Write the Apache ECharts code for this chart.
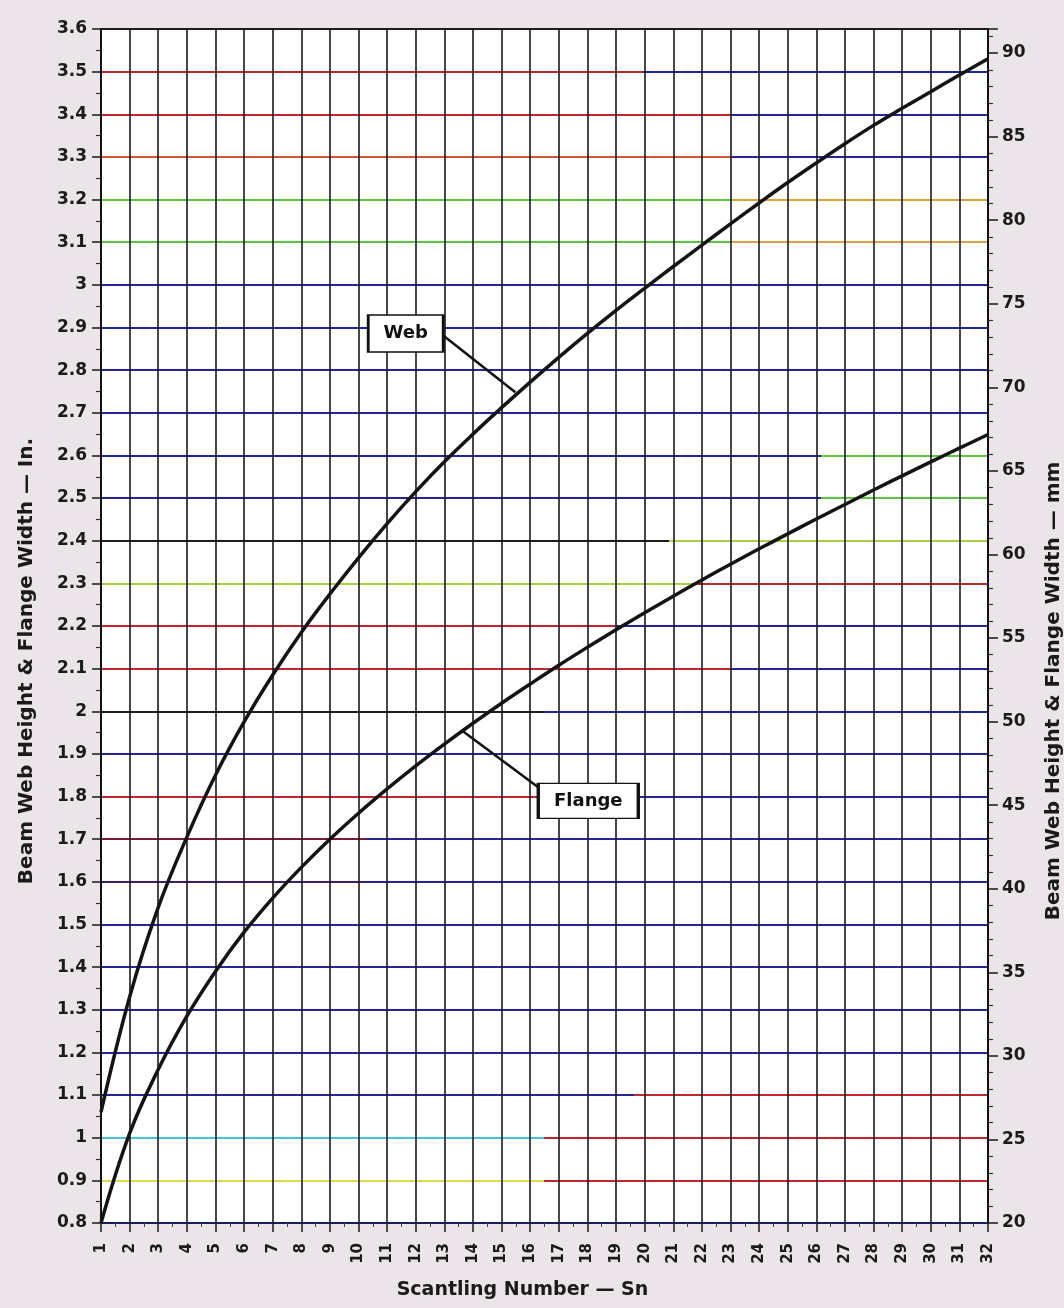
<!DOCTYPE html>
<html>
<head>
<meta charset="utf-8">
<script src="https://cdn.jsdelivr.net/npm/echarts@6/dist/echarts.min.js"></script>
<style>
html,body{margin:0;padding:0;background:#ebe5e9;}
#chart{width:1064px;height:1308px;}
</style>
</head>
<body>
<div id="chart"></div>
<script>
// ---- data ----
const scantlingNumbers = [1,2,3,4,5,6,7,8,9,10,11,12,13,14,15,16,17,18,19,20,21,22,23,24,25,26,27,28,29,30,31,32];
const webHeightIn = [1.06,1.33,1.54,1.705,1.85,1.975,2.085,2.185,2.275,2.36,2.44,2.515,2.585,2.65,2.712,2.772,2.83,2.886,2.94,2.992,3.043,3.093,3.143,3.192,3.24,3.286,3.331,3.374,3.414,3.453,3.492,3.53];
const flangeWidthIn = [0.80,1.01,1.16,1.285,1.39,1.482,1.562,1.634,1.70,1.761,1.818,1.872,1.923,1.972,2.019,2.064,2.108,2.15,2.191,2.231,2.27,2.308,2.345,2.381,2.416,2.451,2.485,2.519,2.552,2.585,2.617,2.649];
const inchAxis = {min: 0.8, max: 3.6, step: 0.1};
const mmAxis = {min: 20, max: 91.44, step: 5};
const xTitle = 'Scantling Number — Sn';
const leftTitle = 'Beam Web Height & Flange Width — In.';
const rightTitle = 'Beam Web Height & Flange Width — mm';
const labels = ['Web', 'Flange'];

// ---- annotation placement (data coords) ----
const webNote = {box: [11.65, 2.886], from: [12.96, 2.881], to: [15.48, 2.748]};
const flangeNote = {box: [18.03, 1.790], from: [16.28, 1.822], to: [13.59, 1.956]};

// ---- styles ----
const NAVY = '#24249c', RED = '#c4262e', GREEN = '#5cc63c', YGREEN = '#a9d040',
      ORANGE = '#d9a040', YELLOW = '#e3d84a', CYAN = '#45c6e0', BLACK = '#1d1d1d',
      DRED = '#7a1a3a', PURPLE = '#3a1f6e', ORED = '#d2553a';
// bottom (0.8) to top (3.6): [leftColor, rightColor, changeFraction]
const lineColorPlan = [
  [NAVY], [YELLOW, RED, 0.5], [CYAN, RED, 0.5], [NAVY, RED, 0.6], [NAVY], [NAVY], [NAVY], [NAVY],
  [PURPLE, NAVY, 0.3], [DRED, NAVY, 0.3], [RED, NAVY, 0.49], [NAVY], [BLACK, NAVY, 0.5],
  [RED, NAVY, 0.71], [RED, NAVY, 0.58], [YGREEN, RED, 0.67], [BLACK, YGREEN, 0.64],
  [NAVY, GREEN, 0.81], [NAVY, GREEN, 0.81], [NAVY], [NAVY], [NAVY], [NAVY],
  [GREEN, ORANGE, 0.71], [GREEN, ORANGE, 0.71], [ORED, NAVY, 0.71], [RED, NAVY, 0.71],
  [RED, NAVY, 0.61], [BLACK]
];
const splitColors = lineColorPlan.map(p => {
  if (p.length === 1) return p[0];
  return {type: 'linear', x: 0, y: 0, x2: 1, y2: 0, colorStops: [
    {offset: 0, color: p[0]}, {offset: p[2], color: p[0]},
    {offset: p[2], color: p[1]}, {offset: 1, color: p[1]}
  ]};
});

const FONT = 'DejaVu Sans';
const chart = echarts.init(document.getElementById('chart'), null, {renderer: 'canvas'});

function noteSeries(note, text, boxSize) {
  return {
    markLine: {
      silent: true, symbol: ['none', 'none'], animation: false,
      label: {show: false},
      lineStyle: {color: '#111', width: 2.5, type: 'solid'},
      data: [[{coord: note.from}, {coord: note.to}]]
    },
    markPoint: {
      silent: true, animation: false,
      data: [{coord: note.box, symbol: 'rect', symbolSize: boxSize,
        itemStyle: {color: '#ffffff', borderColor: '#111', borderWidth: 2},
        label: {show: true, position: 'inside', formatter: text, color: '#111',
          fontFamily: FONT, fontWeight: 'bold', fontSize: 18}}]
    }
  };
}

const option = {
  animation: false,
  backgroundColor: '#ebe5e9',
  grid: {left: 101, right: 76, top: 29, bottom: 85, show: true, outerBoundsMode: 'none',
    containLabel: false, backgroundColor: '#ffffff', borderWidth: 0},
  xAxis: {
    type: 'value', min: 1, max: 32, interval: 1,
    name: xTitle, nameLocation: 'middle', nameGap: 58,
    nameTextStyle: {fontFamily: FONT, fontWeight: 'bold', fontSize: 19, color: '#1a1a1a', padding: [0, 44, 0, 0]},
    axisLine: {show: true, lineStyle: {color: '#1c1c5a', width: 2}},
    axisTick: {show: true, length: 9, lineStyle: {color: '#1a1a1a', width: 1.5}},
    minorTick: {show: true, splitNumber: 2, length: 4, lineStyle: {color: '#444', width: 1}},
    axisLabel: {rotate: 90, margin: 20, fontFamily: FONT, fontWeight: 'bold', fontSize: 15, color: '#1a1a1a'},
    splitLine: {show: true, lineStyle: {color: '#1a1a1a', width: 1.6}}
  },
  yAxis: [
    {
      type: 'value', min: inchAxis.min, max: inchAxis.max, interval: inchAxis.step,
      position: 'left',
      name: leftTitle, nameLocation: 'middle', nameGap: 64, nameRotate: 90,
      nameTextStyle: {fontFamily: FONT, fontWeight: 'bold', fontSize: 20, color: '#1a1a1a', padding: [0, 70, 0, 0]},
      axisLine: {show: true, lineStyle: {color: '#111', width: 2}},
      axisTick: {show: true, length: 9, lineStyle: {color: '#1a1a1a', width: 1.5}},
      minorTick: {show: true, splitNumber: 2, length: 5, lineStyle: {color: '#333', width: 1.2}},
      axisLabel: {margin: 14, fontFamily: FONT, fontWeight: 'bold', fontSize: 17, color: '#1a1a1a'},
      splitLine: {show: true, lineStyle: {color: splitColors, width: 2}}
    },
    {
      type: 'value', min: mmAxis.min, max: mmAxis.max, interval: mmAxis.step,
      position: 'right',
      name: rightTitle, nameLocation: 'middle', nameGap: 56, nameRotate: 90,
      nameTextStyle: {fontFamily: FONT, fontWeight: 'bold', fontSize: 20, color: '#1a1a1a', padding: [0, 130, 0, 0]},
      axisLine: {show: true, lineStyle: {color: '#111', width: 2}},
      axisTick: {show: true, length: 10, lineStyle: {color: '#1a1a1a', width: 1.5}},
      minorTick: {show: true, splitNumber: 5, length: 5, lineStyle: {color: '#333', width: 1.2}},
      axisLabel: {margin: 14, fontFamily: FONT, fontWeight: 'bold', fontSize: 17, color: '#1a1a1a',
        formatter: v => (Math.abs(v % 5) < 1e-6 ? String(Math.round(v)) : '')},
      splitLine: {show: false}
    }
  ],
  series: [
    Object.assign({
      name: labels[0], type: 'line', yAxisIndex: 0, smooth: 0.4, symbol: 'none',
      lineStyle: {color: '#141414', width: 3.5}, z: 5,
      data: scantlingNumbers.map((s, i) => [s, webHeightIn[i]])
    }, noteSeries(webNote, labels[0], [75, 37])),
    Object.assign({
      name: labels[1], type: 'line', yAxisIndex: 0, smooth: 0.4, symbol: 'none',
      lineStyle: {color: '#141414', width: 3.5}, z: 5,
      data: scantlingNumbers.map((s, i) => [s, flangeWidthIn[i]])
    }, noteSeries(flangeNote, labels[1], [100, 35]))
  ]
};
chart.setOption(option);
</script>
</body>
</html>
